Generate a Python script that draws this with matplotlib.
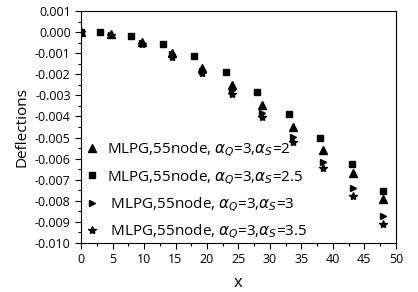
import matplotlib
matplotlib.use("Agg")
import matplotlib.pyplot as plt
from matplotlib.ticker import MultipleLocator, FormatStrFormatter

plt.rcParams['font.family'] = ['Open Sans', 'DejaVu Sans']
plt.rcParams['mathtext.fontset'] = 'dejavusans'

# node positions
x_sq = [0, 3, 8, 13, 18, 23, 28, 33, 38, 43, 48]
x_tri = [0, 4.8, 9.6, 14.4, 19.2, 24, 28.8, 33.6, 38.4, 43.2, 48]

# deflections
y_a2 = [0, -0.0001, -0.00046, -0.00098, -0.0017, -0.0025, -0.00346, -0.00449, -0.0056, -0.0067, -0.0079]
y_a25 = [0, 0.0, -0.00016, -0.00055, -0.00114, -0.0019, -0.00283, -0.00389, -0.00504, -0.00626, -0.00754]
y_a3 = [0, -0.00012, -0.0005, -0.00105, -0.00183, -0.00275, -0.00382, -0.00496, -0.00615, -0.0074, -0.0087]
y_a35 = [0, -0.00015, -0.00055, -0.00117, -0.00196, -0.00294, -0.00404, -0.0052, -0.00646, -0.00777, -0.00911]

labels = [r'MLPG,55node, $\alpha_Q$=3,$\alpha_S$=2',
          r'MLPG,55node, $\alpha_Q$=3,$\alpha_S$=2.5',
          r' MLPG,55node, $\alpha_Q$=3,$\alpha_S$=3',
          r' MLPG,55node, $\alpha_Q$=3,$\alpha_S$=3.5']

fig = plt.figure(figsize=(4.18, 2.92), dpi=100)
ax = fig.add_axes([0.194, 0.168, 0.753, 0.794])

ax.plot(x_tri, y_a2, '^', color='black', ms=5.5, ls='none', label=labels[0])
ax.plot(x_sq, y_a25, 's', color='black', ms=4, ls='none', label=labels[1])
ax.plot(x_tri, y_a3, '>', color='black', ms=5, ls='none', label=labels[2])
ax.plot(x_tri, y_a35, '*', color='black', ms=6, ls='none', label=labels[3])

ax.set_xlim(0, 50)
ax.set_ylim(-0.010, 0.001)
ax.xaxis.set_major_locator(MultipleLocator(5))
ax.xaxis.set_minor_locator(MultipleLocator(2.5))
ax.yaxis.set_major_locator(MultipleLocator(0.001))
ax.yaxis.set_minor_locator(MultipleLocator(0.0005))
ax.yaxis.set_major_formatter(FormatStrFormatter('%.3f'))
ax.tick_params(which='major', direction='out', length=4, labelsize=9, width=0.8)
ax.tick_params(which='minor', direction='out', length=2, width=0.8)

ax.set_xlabel('x', fontsize=12, labelpad=6)
ax.set_ylabel('Deflections', fontsize=11)

ax.legend(loc='lower left', frameon=False, fontsize=11, handletextpad=0.7,
          handlelength=0.6, labelspacing=0.6, borderaxespad=0.0,
          bbox_to_anchor=(0.0, -0.02))

fig.savefig('out.png', dpi=100)
